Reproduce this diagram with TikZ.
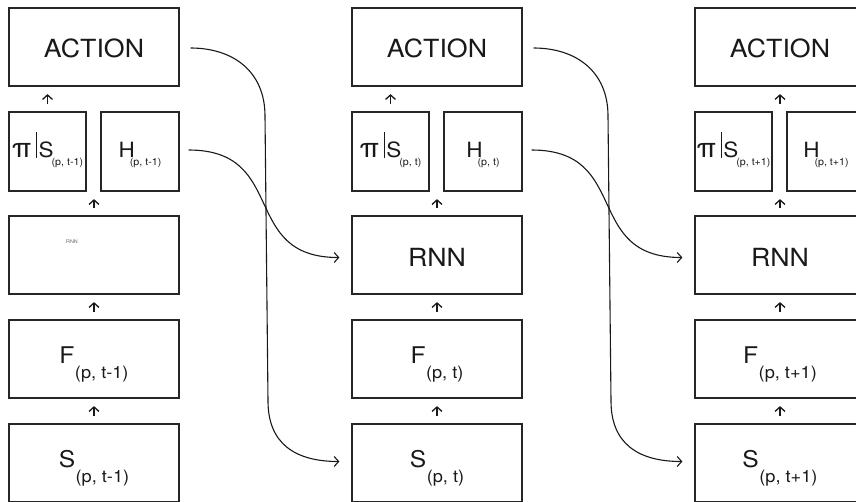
\documentclass[tikz,border=0pt]{standalone}
\usepackage{fontspec}
\setmainfont[FakeStretch=1.07]{TeX Gyre Heros}
\usetikzlibrary{arrows.meta,calc}
\newcommand{\mainsub}[2]{#1\kern0.5pt\raisebox{-15.5pt}{\fontsize{17}{17}\selectfont #2}}
\newcommand{\smallsubH}[1]{H\kern-5pt\raisebox{-8pt}{\fontsize{10}{10}\selectfont #1}}
\newcommand{\smallsubPi}[1]{\scalebox{1.3}[1.28]{π}\kern4.5pt\rule[-1pt]{1.2pt}{26pt}\kern1.5pt S\kern-2pt\raisebox{-8pt}{\fontsize{10}{10}\selectfont #1}}
\begin{document}
\begin{tikzpicture}[x=1pt,y=-1pt,
  cell/.style={draw=black!85, line width=1.2pt, inner sep=0pt, text=black!90},
  actcell/.style={cell, minimum width=170pt, minimum height=78pt, text height=20pt, text depth=0pt, font=\fontsize{25}{30}\selectfont},
  rnncell/.style={cell, minimum width=170pt, minimum height=78pt, text height=22pt, text depth=0pt, font=\fontsize{25}{30}\selectfont},
  fscell/.style={cell, minimum width=170pt, minimum height=78pt, text height=16pt, text depth=8pt, font=\fontsize{23}{28}\selectfont},
  picell/.style={cell, minimum width=77pt, minimum height=79pt, text height=15pt, text depth=4pt, font=\fontsize{21}{25}\selectfont},
  hcell/.style={cell, minimum width=78pt, minimum height=79pt, text height=15pt, text depth=4pt, font=\fontsize{21}{25}\selectfont},
  uparr/.style={-{Straight Barb[length=4.5pt,width=10pt]}, line width=1.3pt, black!90, shorten <=7.5pt, shorten >=7.5pt},
  flow/.style={-{Straight Barb[length=4.5pt,width=10pt]}, line width=1.1pt, black!90}]
\useasboundingbox (0,0) rectangle (856,501);
\foreach \c/\L/\s in {1/9/t-1,2/352/t,3/695/t+1}{
  \node[actcell] (act\c) at (\L+85,47) {ACTION};
  \node[picell] (pi\c) at (\L+38.5,151.5) {\smallsubPi{(p, \s)}};
  \node[hcell] (h\c) at (\L+131,151.5) {\smallsubH{(p, \s)}};
  \node[rnncell] (rnn\c) at (\L+85,255) {\ifnum\c=1 \else RNN\fi};
  \node[fscell] (f\c) at (\L+85,359) {\mainsub{F}{(p, \s)}};
  \node[fscell] (s\c) at (\L+85,463) {\mainsub{S}{(p, \s)}};
  \draw[uparr] (s\c) -- (f\c);
  \draw[uparr] (f\c) -- (rnn\c);
  \draw[uparr] (rnn\c.north) -- (rnn\c.north |- pi\c.south);
}
\node[font=\fontsize{5}{6}\selectfont, text=black!60] (rnntiny) at (72,242) {RNN};
\draw[uparr] (pi1.north) -- (pi1.north |- act1.south);
\draw[uparr] (pi2.north) -- (pi2.north |- act2.south);
\draw[uparr] (act3.south |- pi3.north) -- (act3.south);
\foreach \c/\n/\X in {1/2/0,2/3/343}{
  \coordinate (va\c) at (265+\X,116);
  \coordinate (vb\c) at (268+\X,401);
  \draw[flow] ([xshift=11pt,yshift=-1pt]act\c.east) .. controls +(42,0) and +(0,-45) .. (va\c) -- (vb\c) .. controls +(0,42) and +(-45,0) .. ([xshift=-12pt,yshift=1.5pt]s\n.west);
  \draw[flow] ([xshift=9pt,yshift=1.5pt]h\c.east) .. controls +(100,0) and +(-100,0) .. ([xshift=-12pt,yshift=-2.5pt]rnn\n.west);
}
\end{tikzpicture}
\end{document}
